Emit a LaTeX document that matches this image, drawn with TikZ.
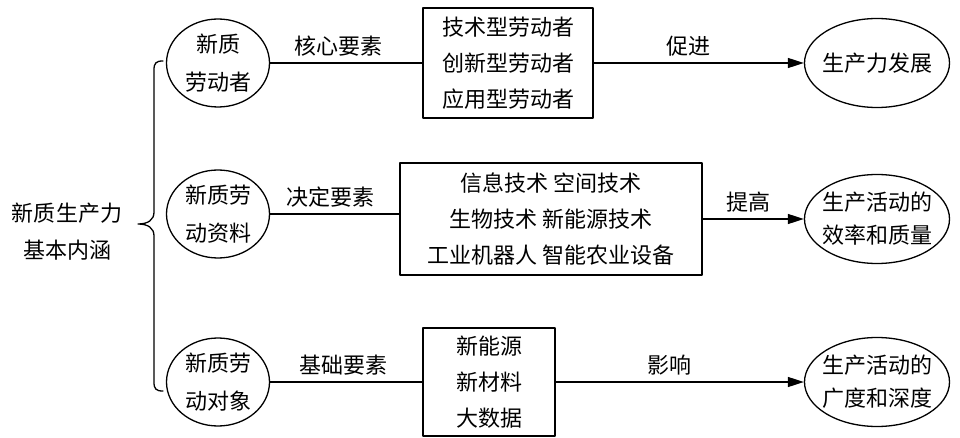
\documentclass[tikz,border=0pt]{standalone}
\usepackage{fontspec}
\setmainfont{Noto Sans CJK SC}
\usetikzlibrary{shapes.geometric,arrows.meta}

\begin{document}
\begin{tikzpicture}[x=1pt,y=-1pt,line width=1.3pt,line cap=round,line join=round,
  >={Triangle[length=16pt,width=10pt]},font=\fontsize{22}{36}\selectfont,
  ring/.style={draw,ellipse,minimum width=103pt,minimum height=88pt,inner sep=0pt},
  goal/.style={draw,ellipse,minimum width=145pt,minimum height=89pt,inner sep=0pt},
  card/.style={draw,rectangle,align=center,inner sep=0pt},
  tag/.style={above=3pt}]
\useasboundingbox (0,0) rectangle (960,438);
% root and brace
\node[align=center,font=\fontsize{22}{37}\selectfont] (root) at (67,232) {新质生产力\\基本内涵};
\coordinate (btop) at (163,61);
\coordinate (btip) at (138,224);
\coordinate (bbot) at (163,391);
\draw (btop) .. controls (156,61) and (154,63) .. (154,70) -- (154,212)
  .. controls (154,220) and (148,224) .. (btip)
  .. controls (148,224) and (154,228) .. (154,236) -- (154,382)
  .. controls (154,389) and (156,391) .. (bbot);
% left circles
\node[ring,label={[align=center,font=\fontsize{22}{38}\selectfont]center:新质\\劳动者}] (w1) at (218,63) {};
\node[ring,label={[align=center,font=\fontsize{22}{38}\selectfont]center:新质劳\\动资料}] (w2) at (218,214) {};
\node[ring,label={[align=center,font=\fontsize{22}{38}\selectfont]center:新质劳\\动对象}] (w3) at (218,382) {};
% boxes
\node[card,minimum width=170pt,minimum height=110pt] (b1) at (508,63) {技术型劳动者\\创新型劳动者\\应用型劳动者};
\node[card,minimum width=302pt,minimum height=112pt] (b2) at (551,219) {信息技术 空间技术\\生物技术 新能源技术\\工业机器人 智能农业设备};
\node[card,minimum width=132pt,minimum height=108pt] (b3) at (489,382) {新能源\\新材料\\大数据};
% right ellipses
\node[goal,label={center:生产力发展}] (g1) at (877,63) {};
\node[goal,label={[align=center,font=\fontsize{22}{33}\selectfont]center:生产活动的\\效率和质量}] (g2) at (877,219) {};
\node[goal,label={[align=center,font=\fontsize{22}{33}\selectfont]center:生产活动的\\广度和深度}] (g3) at (877,382) {};
% connectors
\draw (w1) -- node[tag,pos=0.45] {核心要素} (b1);
\draw (w2) -- node[tag,pos=0.47] {决定要素} (w2 -| b2.west);
\draw (w3) -- node[tag,pos=0.48] {基础要素} (b3);
\draw[->] (b1) -- node[tag,pos=0.45] {促进} (g1);
\draw[->] (b2) -- node[tag,pos=0.45] {提高} (g2);
\draw[->] (b3) -- node[tag,pos=0.46] {影响} (g3);
\end{tikzpicture}
\end{document}
